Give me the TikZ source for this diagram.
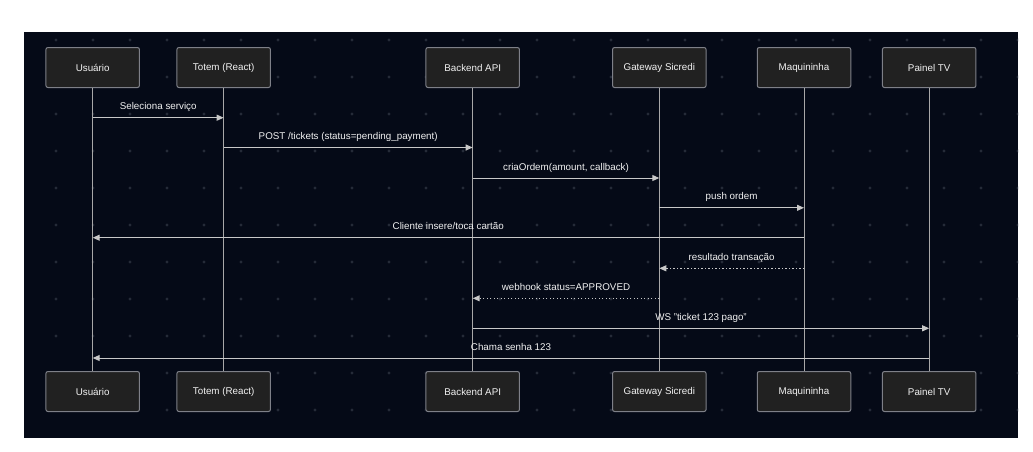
\documentclass[tikz,border=0pt]{standalone}
\usepackage{fontspec}
\setmainfont{Liberation Sans}
\usetikzlibrary{arrows.meta}
\definecolor{bgc}{HTML}{050A17}
\definecolor{dotc}{HTML}{252B38}
\definecolor{boxfill}{HTML}{212121}
\definecolor{boxline}{HTML}{7E8088}
\definecolor{linec}{HTML}{C8C8C8}
\definecolor{lifec}{HTML}{A8A8A8}
\definecolor{txtc}{HTML}{F2F2F2}
\tikzset{
  actor/.style={draw=boxline, fill=boxfill, rounded corners=2pt, line width=1pt,
    minimum width=93.5pt, minimum height=40pt, inner sep=0pt, text=txtc},
  life/.style={draw=lifec, line width=1pt},
  msg/.style={draw=linec, line width=1pt, -{Triangle[length=7pt,width=6pt]}},
  reply/.style={msg, dash pattern=on 1.3pt off 2.2pt},
  lbl/.style={anchor=base, text=txtc, inner sep=0pt}
}
\begin{document}
\begin{tikzpicture}[x=1pt,y=-1pt,font=\fontsize{9.8}{11}\selectfont]
\useasboundingbox (0,0) rectangle (1033,451);
\fill[white] (0,0) rectangle (1033,451);
\fill[bgc] (24,32) rectangle (1018,438);
\begin{scope}
\clip (24,32) rectangle (1018,438);
\foreach \i in {0,...,26}{
  \foreach \j in {0,...,10}{
    \fill[dotc] ({56+37*\i},{40+37*\j}) circle (1.6);
  }
}
\end{scope}
% actors top
\node[actor] (uT) at (92.7,67.5) {Usuário};
\node[actor] (tT) at (223.7,67.5) {Totem (React)};
\node[actor] (bT) at (472.7,67.5) {Backend API};
\node[actor] (gT) at (659.3,67.5) {Gateway Sicredi};
\node[actor] (mT) at (804,67.5) {Maquininha};
\node[actor] (pT) at (929.2,67.5) {Painel TV};
% actors bottom
\node[actor] (uB) at (92.7,391.5) {Usuário};
\node[actor] (tB) at (223.7,391.5) {Totem (React)};
\node[actor] (bB) at (472.7,391.5) {Backend API};
\node[actor] (gB) at (659.3,391.5) {Gateway Sicredi};
\node[actor] (mB) at (804,391.5) {Maquininha};
\node[actor] (pB) at (929.2,391.5) {Painel TV};
% lifelines
\foreach \a in {u,t,b,g,m,p}{
  \draw[life] (\a T.south) -- (\a B.north);
}
% messages
\draw[msg] (uT |- 0,117.7) -- (tT |- 0,117.7);
\node[lbl] (l1) at (158.2,109.7) {Seleciona serviço};
\draw[msg] (tT |- 0,147.5) -- (bT |- 0,147.5);
\node[lbl] (l2) at (348.2,139.5) {POST /tickets (status=pending\_payment)};
\draw[msg] (bT |- 0,178) -- (gT |- 0,178);
\node[lbl] (l3) at (566,170) {criaOrdem(amount, callback)};
\draw[msg] (gT |- 0,207.8) -- (mT |- 0,207.8);
\node[lbl] (l4) at (731.6,199.8) {push ordem};
\draw[msg] (mT |- 0,237.7) -- (uT |- 0,237.7);
\node[lbl] (l5) at (448.3,229.7) {Cliente insere/toca cartão};
\draw[reply] (mT |- 0,268.3) -- (gT |- 0,268.3);
\node[lbl] (l6) at (731.6,260.3) {resultado transação};
\draw[reply] (gT |- 0,298.3) -- (bT |- 0,298.3);
\node[lbl] (l7) at (566,290.3) {webhook status=APPROVED};
\draw[msg] (bT |- 0,328.3) -- (pT |- 0,328.3);
\node[lbl] (l8) at (701,320.3) {WS "ticket 123 pago"};
\draw[msg] (pT |- 0,358) -- (uT |- 0,358);
\node[lbl] (l9) at (511,350) {Chama senha 123};
\end{tikzpicture}
\end{document}
